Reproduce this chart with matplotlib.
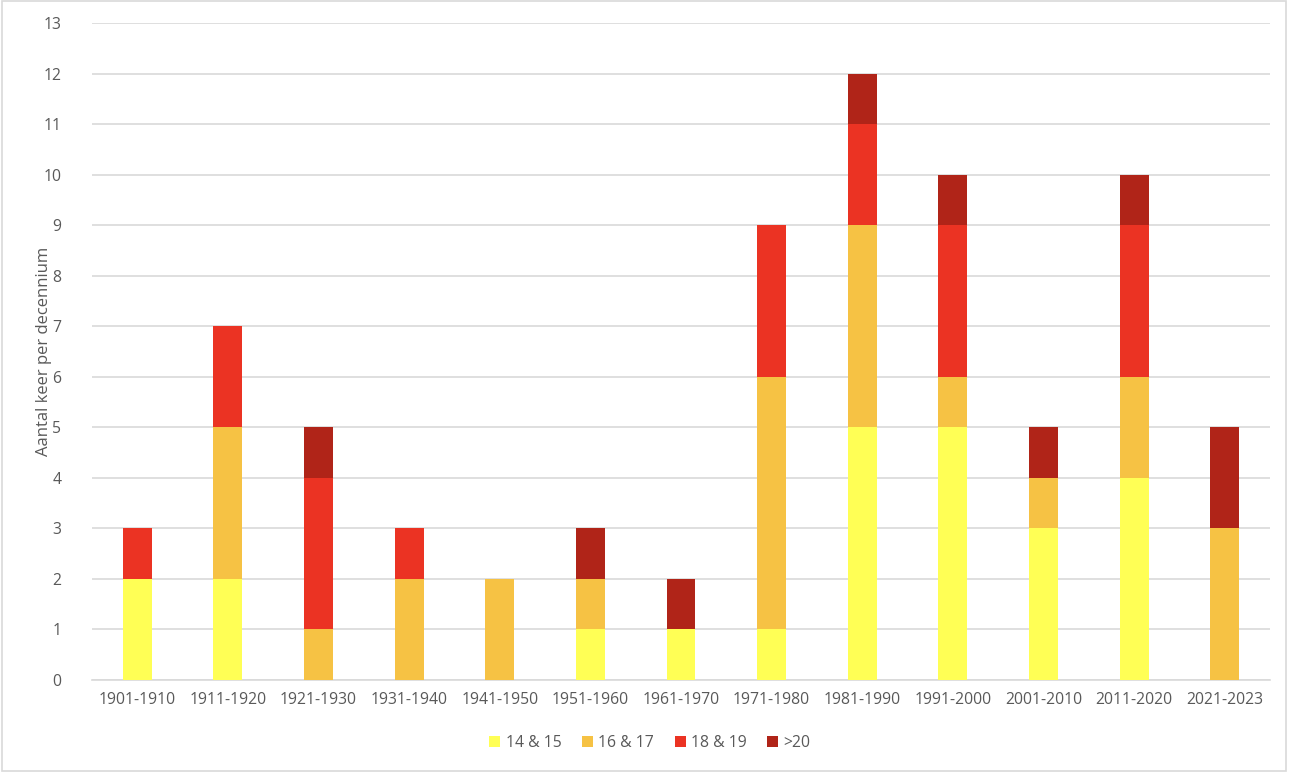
import matplotlib
matplotlib.use("Agg")
import matplotlib.pyplot as plt
from matplotlib.patches import Rectangle
import numpy as np

categories = ["1901-1910", "1911-1920", "1921-1930", "1931-1940", "1941-1950",
              "1951-1960", "1961-1970", "1971-1980", "1981-1990", "1991-2000",
              "2001-2010", "2011-2020", "2021-2023"]
s14_15 = [2, 2, 0, 0, 0, 1, 1, 1, 5, 5, 3, 4, 0]
s16_17 = [0, 3, 1, 2, 2, 1, 0, 5, 4, 1, 1, 2, 3]
s18_19 = [1, 2, 3, 1, 0, 0, 0, 3, 2, 3, 0, 3, 0]
s20 = [0, 0, 1, 0, 0, 1, 1, 0, 1, 1, 1, 1, 2]
series_names = ["14 & 15", "16 & 17", "18 & 19", ">20"]
colors = ["#FFFF55", "#F6C244", "#EB3323", "#B02418"]

plt.rcParams['font.family'] = ['Open Sans', 'DejaVu Sans']
txt = "#595959"

fig = plt.figure(figsize=(12.92, 7.76), dpi=100)
ax = fig.add_axes([92/1292, 1 - 680/776, (1270-92)/1292, (680-23)/776])

x = np.arange(len(categories))
bottom = np.zeros(len(categories))
for vals, name, c in zip([s14_15, s16_17, s18_19, s20], series_names, colors):
    ax.bar(x, vals, width=0.32, bottom=bottom, color=c, label=name, zorder=3)
    bottom += np.array(vals)

ax.set_xlim(-0.5, len(categories) - 0.5)
ax.set_ylim(0, 13)
ax.set_yticks(range(0, 14))
ax.set_xticks(x)
ax.set_xticklabels(categories)
ax.grid(axis='y', color='#D9D9D9', linewidth=1.2, zorder=0)
for s in ['top', 'right', 'left']:
    ax.spines[s].set_visible(False)
ax.spines['bottom'].set_color('#D9D9D9')
ax.spines['bottom'].set_linewidth(1.2)
ax.tick_params(axis='both', length=0, colors=txt, labelsize=11.3)
ax.tick_params(axis='y', pad=22)
ax.tick_params(axis='x', pad=9)
ax.set_ylabel("Aantal keer per decennium", color=txt, fontsize=12)
ax.yaxis.set_label_coords(-0.034, 0.5)

leg = fig.legend(loc='center', bbox_to_anchor=(650/1292, 1 - 743/776), ncol=4,
                 frameon=False, fontsize=11.3, handlelength=0.7, handleheight=0.7,
                 handletextpad=0.35, columnspacing=1.3)
for t in leg.get_texts():
    t.set_color(txt)

fig.patches.append(Rectangle((2/1292, 1 - 771/776), 1284/1292, 770/776,
                             transform=fig.transFigure, fill=False,
                             edgecolor='#D9D9D9', linewidth=1.2))

fig.savefig("out.png", dpi=100)
